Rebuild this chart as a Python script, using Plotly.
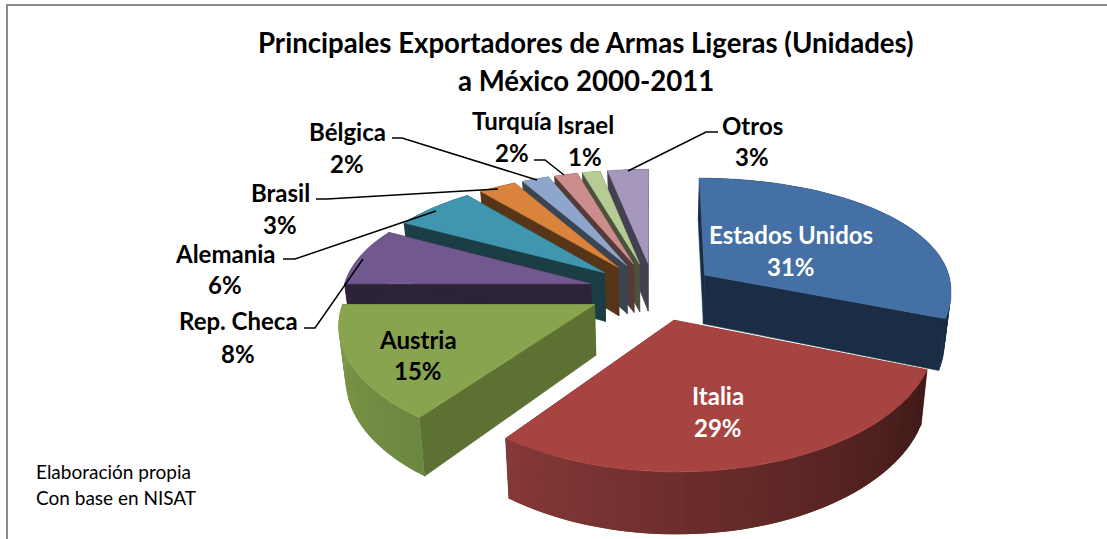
import numpy as np
import plotly.graph_objects as go

# ---- data ----
countries = ["Estados Unidos", "Italia", "Austria", "Rep. Checa", "Alemania",
             "Brasil", "Bélgica", "Turquía", "Israel", "Otros"]
# shares; the labels show them rounded
shares = [31, 29, 15, 8, 6.2, 2.8, 2.0, 1.7, 1.3, 3.0]
title_lines = ["Principales Exportadores de Armas Ligeras (Unidades)", "a México 2000-2011"]
note_lines = ["Elaboración propia", "Con base en NISAT"]

# ---- styles ----
top_colors = ["#4470A5", "#A74442", "#89A44F", "#71588F", "#4096AE",
              "#D9833C", "#8FA6CC", "#CD8D8C", "#B7CB94", "#A697BC"]
wall_colors = ["#1A2D44", "#5A2322", "#5D7132", "#2D2339", "#1A3D46",
               "#583518", "#3B4453", "#543B3A", "#4A523C", "#444051"]
rim_gradients = {0: ("#1A2D44", "#1A2D44"), 1: ("#3F1A17", "#853838"), 2: ("#6C873F", "#80994A")}
text_colors = ["white", "white", "black"] + ["black"] * 7
# label centre (x, y of the name line, y of the percent line), in pixels
label_pos = [(791, 234, 266), (718, 395, 427), (418, 339, 370), (238, 320, 353), (225, 253, 284),
             (280, 192, 224), (347, 131, 163), (512, 120, 152), (585, 124, 156), (752, 125, 156)]
leaders = {3: [(304, 328), (315, 328), (363, 259)], 4: [(283, 259), (295, 259), (436, 211)],
           5: [(316, 199), (327, 199), (498, 189)], 6: [(392, 138), (402, 138), (537, 180)],
           7: [(534, 160), (545, 160), (564, 175)], 9: [(718, 132), (706, 132), (628, 171)]}
draw_order = [9, 8, 7, 6, 5, 4, 3, 0, 2, 1]
x_nudge = {0: -3, 1: 1}

# ---- projection parameters ----
CX, CY, AX, BY, KX_BACK, KX_FRONT, KY, H = 654, 291, 248, 117, 0.11, 0.14, 0.16, 50
PULL_X, PULL_Y, SHRINK = 0.265, 0.25, 0.022


def project(X, Y, z=0.0, dx=0.0):
    sx = 1 / (1 + (KX_BACK if Y > 0 else KX_FRONT) * Y)
    s = 1 / (1 + KY * Y)
    return CX + dx + AX * X * sx * (1 - SHRINK * z), CY - BY * Y * s + H * s * z


def to_hex(a, b, t):
    ca = [int(a[i:i + 2], 16) for i in (1, 3, 5)]
    cb = [int(b[i:i + 2], 16) for i in (1, 3, 5)]
    return "#" + "".join(f"{round(p + (q - p) * t):02x}" for p, q in zip(ca, cb))


fig = go.Figure()


def poly(pts, color, name, width=0.6):
    xs = [p[0] for p in pts] + [pts[0][0]]
    ys = [p[1] for p in pts] + [pts[0][1]]
    fig.add_trace(go.Scatter(x=xs, y=ys, mode="lines", fill="toself", fillcolor=color,
                             line=dict(color=color, width=width), name=name,
                             hoverinfo="skip", showlegend=False))


total = sum(shares)
edges = np.cumsum([0] + shares) / total * 2 * np.pi

for i in draw_order:
    a0, a1 = edges[i], edges[i + 1]
    mid = (a0 + a1) / 2
    ox, oy = PULL_X * np.sin(mid), PULL_Y * np.cos(mid)
    th = np.linspace(a0, a1, max(6, int((a1 - a0) * 30)))
    rx, ry = ox + np.sin(th), oy + np.cos(th)
    d = x_nudge.get(i, 0)

    # the two radial cut faces
    for j in (0, -1):
        poly([project(ox, oy, 0, d), project(rx[j], ry[j], 0, d),
              project(rx[j], ry[j], 1, d), project(ox, oy, 1, d)],
             wall_colors[i], countries[i] + " corte")
    # outer rim, split in overlapping strips for the shading
    c0, c1 = rim_gradients.get(i, (wall_colors[i], wall_colors[i]))
    n = len(th) - 1
    for j in range(n):
        e = min(j + 2, n)
        arc = range(j, e + 1)
        poly([project(rx[q], ry[q], 0, d) for q in arc] + [project(rx[q], ry[q], 1, d) for q in reversed(arc)],
             to_hex(c0, c1, j / max(1, n - 1)), countries[i] + " borde", width=0)
    # top face
    poly([project(ox, oy, 0, d)] + [project(a, b, 0, d) for a, b in zip(rx, ry)], top_colors[i], countries[i])

for i, pts in leaders.items():
    fig.add_trace(go.Scatter(x=[p[0] for p in pts], y=[p[1] for p in pts], mode="lines",
                             line=dict(color="black", width=1.5), hoverinfo="skip", showlegend=False))

FONT = "Lato, Carlito, Calibri, sans-serif"
ann = []
for i, (x, y1, y2) in enumerate(label_pos):
    for txt, y in ((countries[i], y1), (f"{round(shares[i])}%", y2)):
        ann.append(dict(x=x, y=y, text=f"<b>{txt}</b>", showarrow=False, xref="x", yref="y",
                        font=dict(family=FONT, size=24, color=text_colors[i])))
for txt, y in zip(title_lines, (42, 80)):
    ann.append(dict(x=586, y=y, text=f"<b>{txt}</b>", showarrow=False, xref="x", yref="y",
                    font=dict(family=FONT, size=27.6, color="black")))
for txt, y in zip(note_lines, (471, 497)):
    ann.append(dict(x=34, y=y, text=txt, xanchor="left", showarrow=False, xref="x", yref="y",
                    font=dict(family=FONT, size=19, color="black")))

fig.update_layout(
    width=1107, height=539, autosize=False, margin=dict(l=0, r=0, t=0, b=0),
    paper_bgcolor="white", plot_bgcolor="white", showlegend=False,
    xaxis=dict(range=[0, 1107], visible=False, fixedrange=True),
    yaxis=dict(range=[539, 0], visible=False, fixedrange=True),
    annotations=ann,
    shapes=[dict(type="rect", xref="x", yref="y", x0=7, y0=5, x1=1130, y1=570,
                 line=dict(color="#8A8A8A", width=2), layer="below")],
)
fig.write_html("out.html", config={"displayModeBar": False},
               post_script="document.body.style.margin='0';")
